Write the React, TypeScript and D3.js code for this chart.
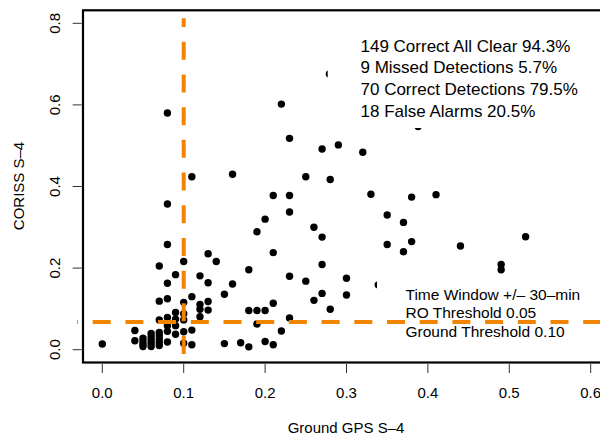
import React from "react";
import * as d3 from "d3";

// ---- data ----
const groundS4: number[] = [
  0.08, 0.11, 0.08, 0.08, 0.13, 0.22, 0.23, 0.27, 0.29, 0.32, 0.16, 0.25, 0.28, 0.21, 0.23, 0.33,
  0.23, 0.2, 0.19, 0.26, 0.27, 0.21, 0.1, 0.14, 0.27, 0.18, 0.12, 0.23, 0.25, 0.3, 0.13, 0.16,
  0.15, 0.12, 0.12, 0.13, 0.13, 0.12, 0.18, 0.19, 0.2, 0.21, 0.19, 0.3, 0.27, 0.26, 0.28, 0.23,
  0.22, 0.15, 0.17, 0.18, 0.2, 0.21,
  0.38, 0.41, 0.35, 0.37, 0.35, 0.38, 0.37, 0.44, 0.52, 0.49, 0.49,
  0.279, 0.388, 0.339,
  0.07, 0.09, 0.08, 0.07, 0.08, 0.1, 0.11, 0.07, 0.08, 0.09, 0.1, 0.09, 0.1, 0.08, 0.09, 0.11,
  0.09, 0.1, 0.08, 0.11, 0.1, 0.0, 0.08,
  0.04, 0.04,
  0.05, 0.05, 0.05, 0.05,
  0.06, 0.06, 0.06, 0.06, 0.06,
  0.07, 0.07, 0.07, 0.07, 0.07,
];
const corissS4: number[] = [
  0.58, 0.424, 0.357, 0.258, 0.235, 0.602, 0.518, 0.492, 0.502, 0.484, 0.43, 0.424, 0.417, 0.378, 0.378, 0.381,
  0.3375, 0.32, 0.289, 0.3, 0.276, 0.238, 0.216, 0.216, 0.209, 0.196, 0.181, 0.18, 0.168, 0.175, 0.164, 0.161,
  0.136, 0.111, 0.099, 0.118, 0.097, 0.081, 0.096, 0.096, 0.096, 0.114, 0.063, 0.134, 0.138, 0.121, 0.099, 0.078,
  0.046, 0.015, 0.017, 0.007, 0.02, 0.012,
  0.374, 0.38, 0.33, 0.312, 0.258, 0.265, 0.24, 0.254, 0.277, 0.209, 0.196,
  0.676, 0.547, 0.159,
  0.205, 0.184, 0.163, 0.119, 0.125, 0.116, 0.13, 0.073, 0.079, 0.091, 0.088, 0.075, 0.073, 0.059, 0.059, 0.048,
  0.038, 0.044, 0.019, 0.012, 0.016, 0.014, 0.045,
  0.047, 0.022,
  0.028, 0.02, 0.013, 0.008,
  0.04, 0.032, 0.024, 0.016, 0.008,
  0.042, 0.034, 0.026, 0.018, 0.01,
];

const xTicks = [0.0, 0.1, 0.2, 0.3, 0.4, 0.5, 0.6];
const yTicks = [0.0, 0.2, 0.4, 0.6, 0.8];
const groundThreshold = 0.1;
const roLine = 0.068;
const statsLines = [
  "149 Correct All Clear 94.3%",
  "9 Missed Detections 5.7%",
  "70 Correct Detections 79.5%",
  "18 False Alarms 20.5%",
];
const infoLines = ["Time Window +/\u2013 30\u2013min", "RO Threshold 0.05", "Ground Threshold 0.10"];
const xTitle = "Ground GPS S\u20134";
const yTitle = "CORISS S\u20134";

const W = 600;
const H = 435;
const FONT = "'Liberation Sans', Arial, Helvetica, sans-serif";
const ORANGE = "#f28500";

export default function App() {
  const x = d3.scaleLinear().domain([0, 0.6]).range([102.3, 590.7]);
  const y = d3.scaleLinear().domain([0, 0.8]).range([349.7, 23.3]);
  const [ux0, ux1] = [x.invert(83), x.invert(610)];
  const [uy0, uy1] = [y.invert(362.5), y.invert(10.3)];

  const pts = groundS4.map((g, i) => ({ g, c: corissS4[i] }));
  const vline = d3.line<[number, number]>()([
    [x(groundThreshold), y(-0.0106)],
    [x(groundThreshold), y(0.8124)],
  ]);
  const hline = d3.line<[number, number]>()([
    [77, y(roLine)],
    [x(0.7), y(roLine)],
  ]);

  return (
    <svg
      width={W}
      height={H}
      style={{ position: "absolute", left: 0, top: 0, background: "#fff" }}
      fontFamily={FONT}
    >
      <rect x={0} y={0} width={W} height={H} fill="#fff" />
      {/* points */}
      {pts.map((p, i) => (
        <circle key={i} cx={x(p.g)} cy={y(p.c)} r={3.7} fill="#000" />
      ))}
      {/* legend backgrounds */}
      <rect x={327.7} y={28} width={290} height={100} fill="#fff" />
      <rect x={377} y={276} width={240} height={70} fill="#fff" />
      {/* threshold lines */}
      <path d={vline ?? ""} stroke={ORANGE} strokeWidth={4} strokeDasharray="18 14.7" fill="none" />
      {/* box */}
      <rect
        x={x(ux0)}
        y={y(uy1)}
        width={x(ux1) - x(ux0)}
        height={y(uy0) - y(uy1)}
        fill="none"
        stroke="#000"
        strokeWidth={2.2}
      />
      {/* x axis */}
      {xTicks.map((t) => (
        <g key={"x" + t}>
          <line x1={x(t)} x2={x(t)} y1={364} y2={373} stroke="#333" strokeWidth={1} />
          <text x={x(t)} y={397.5} fontSize={15} textAnchor="middle" fill="#000">
            {d3.format(".1f")(t)}
          </text>
        </g>
      ))}
      {/* y axis */}
      {yTicks.map((t) => (
        <g key={"y" + t}>
          <line x1={72.7} x2={81.7} y1={y(t)} y2={y(t)} stroke="#333" strokeWidth={1} />
          <text
            transform={`translate(60,${y(t)}) rotate(-90)`}
            fontSize={15}
            textAnchor="middle"
            fill="#000"
          >
            {d3.format(".1f")(t)}
          </text>
        </g>
      ))}
      <text x={346} y={432.5} fontSize={15} textAnchor="middle" fill="#000">
        {xTitle}
      </text>
      <text transform={`translate(23.5,186) rotate(-90)`} fontSize={15} textAnchor="middle" fill="#000">
        {yTitle}
      </text>
      {/* stats legend */}
      {statsLines.map((s, i) => (
        <text key={s} x={360.5} y={51.5 + i * 21.7} fontSize={17} fill="#000">
          {s}
        </text>
      ))}
      {infoLines.map((s, i) => (
        <text key={s} x={405.5} y={299.5 + i * 18.8} fontSize={15.5} fill="#000">
          {s}
        </text>
      ))}
      {/* horizontal dashes drawn over the info legend */}
      <path
        d={hline ?? ""}
        stroke={ORANGE}
        strokeWidth={4}
        strokeDasharray="18 14.7"
        strokeDashoffset={17}
        fill="none"
      />
    </svg>
  );
}
